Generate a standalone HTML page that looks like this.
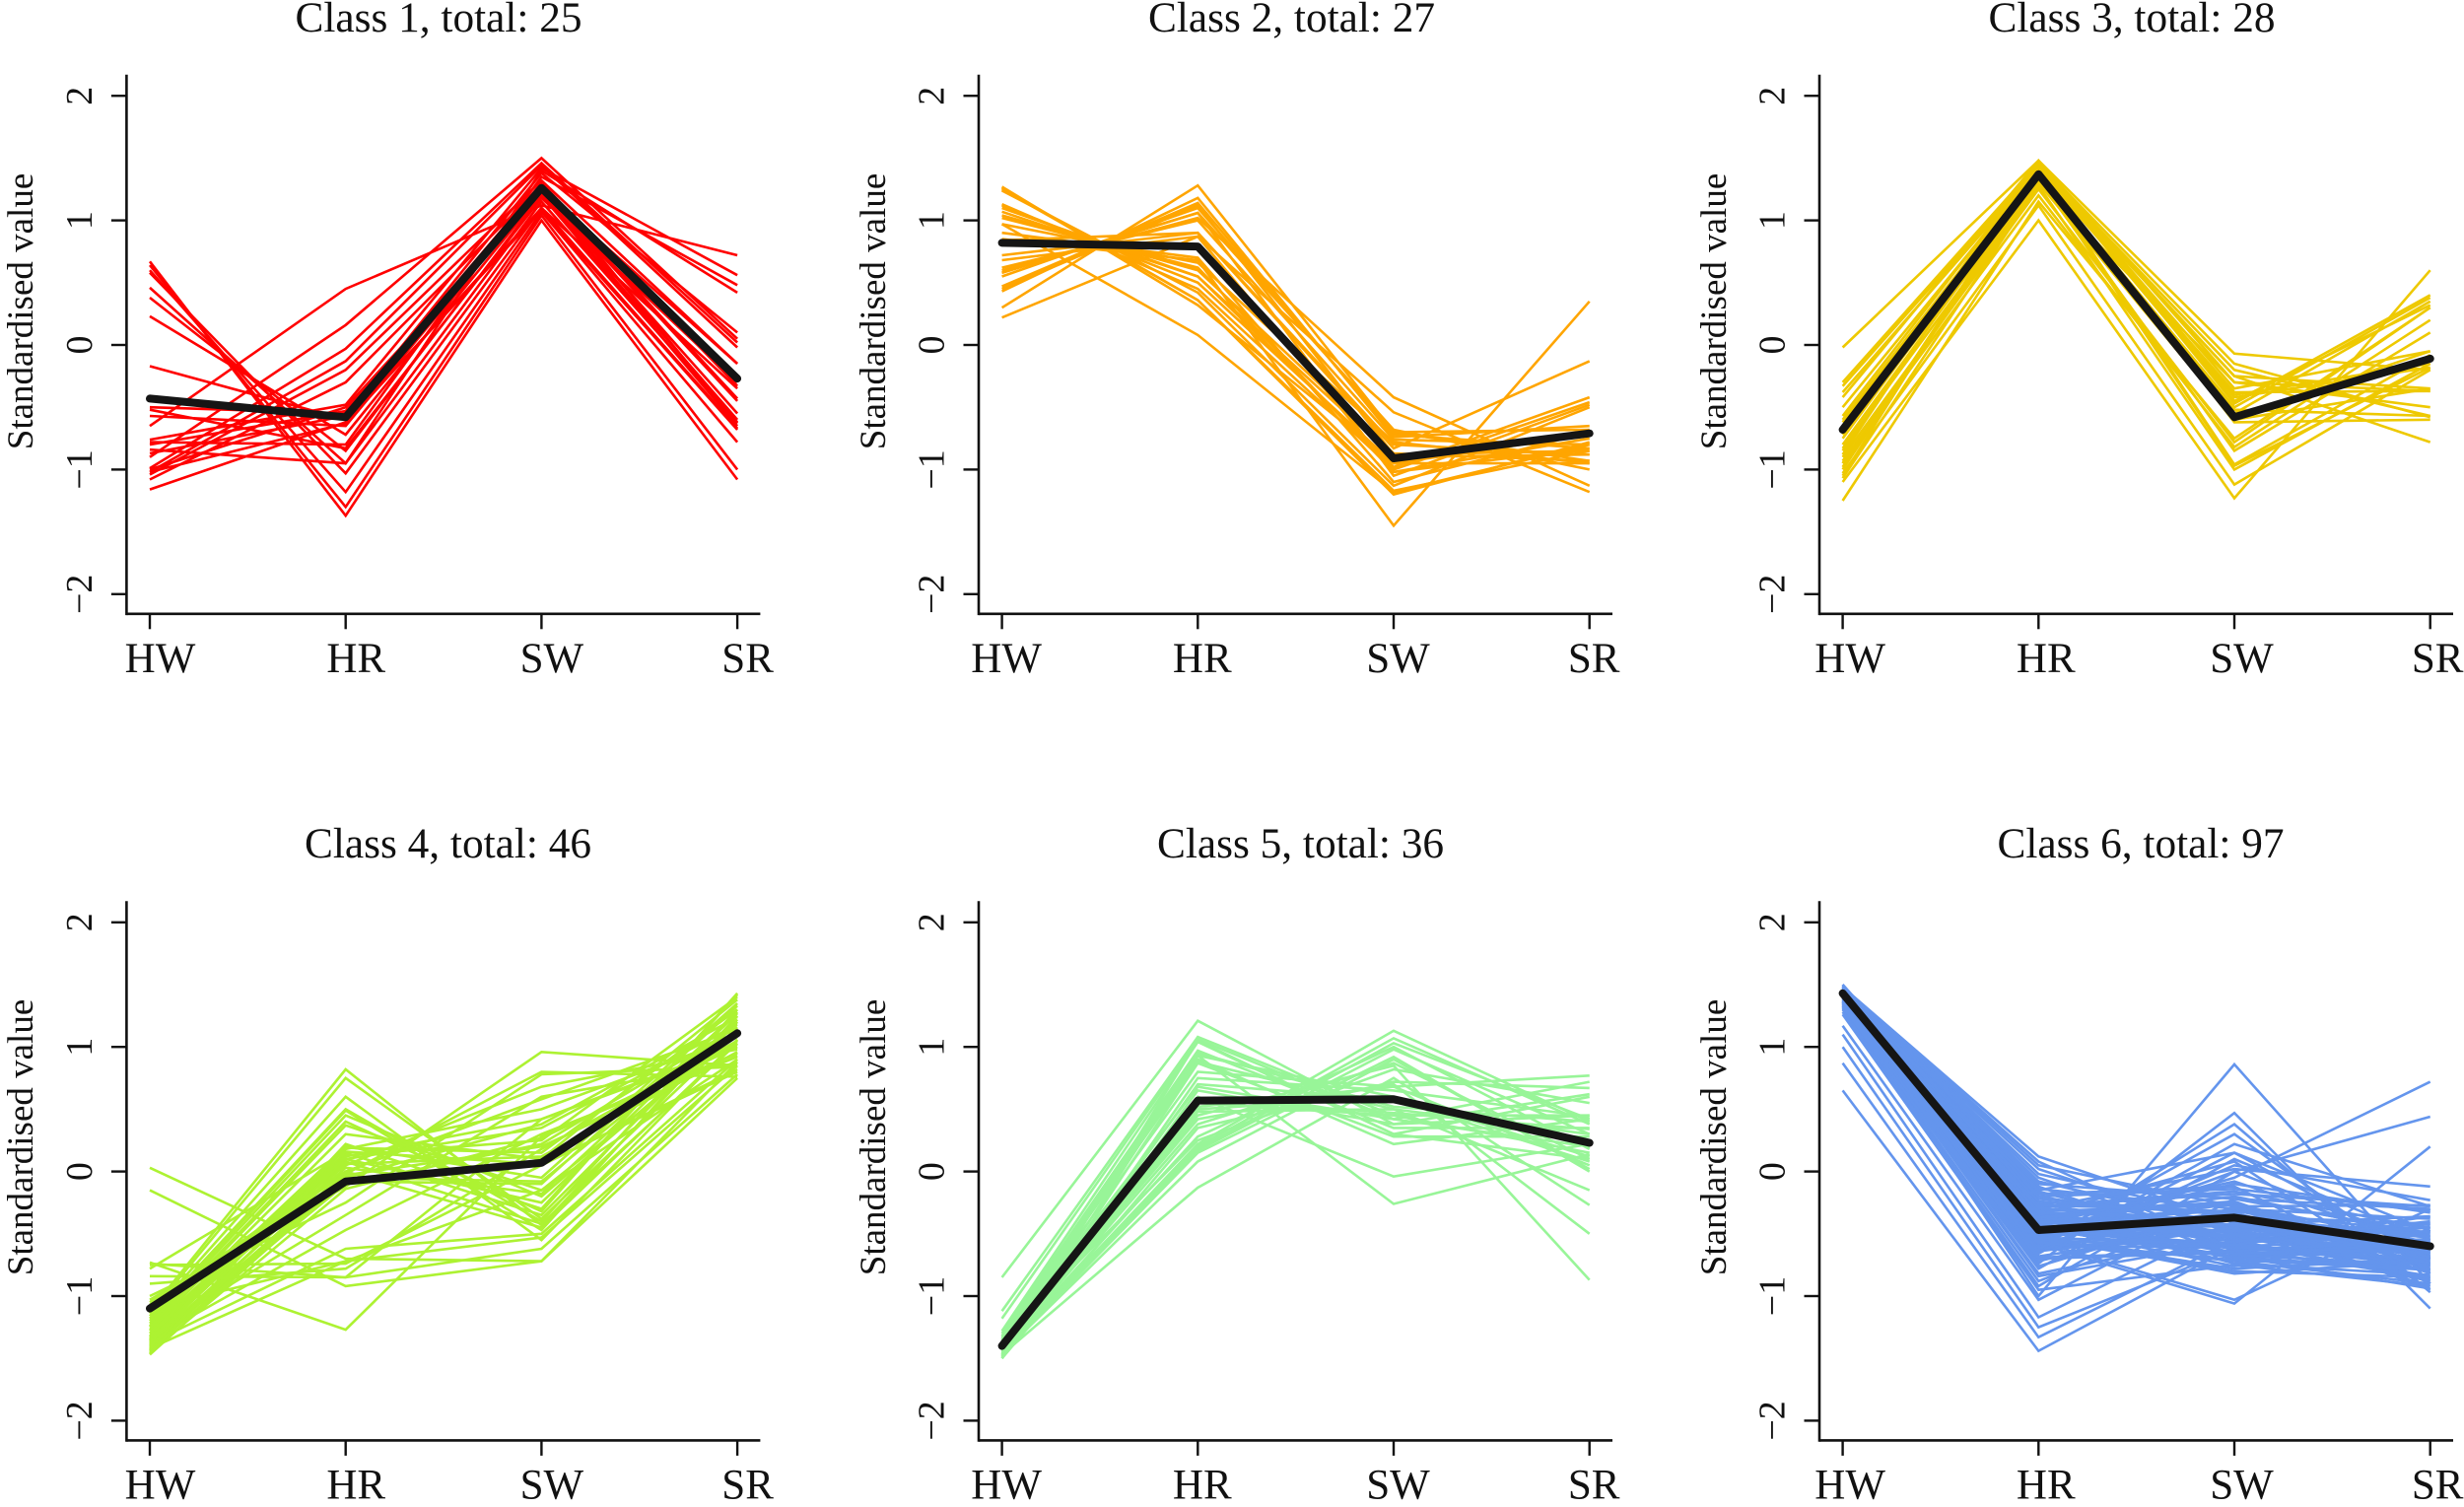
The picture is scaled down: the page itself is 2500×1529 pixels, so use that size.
<!DOCTYPE html>
<html lang="en">
<head>
<meta charset="utf-8">
<title>Standardised value profiles by class</title>
<style>
html,body{margin:0;padding:0;background:#fff;}
svg{display:block;}
text{font-family:"Liberation Serif",serif;fill:#111;}
</style>
</head>
<body>
<svg id="chart" xmlns="http://www.w3.org/2000/svg" width="2500" height="1529" viewBox="0 0 2500 1529">
<rect width="2500" height="1529" fill="#fff"/>
<g id="panel-1"><text x="445" y="32" font-size="43.3" text-anchor="middle">Class 1, total: 25</text><text transform="translate(33,316) rotate(-90)" font-size="37" text-anchor="middle">Standardised value</text></g>
<g id="panel-2"><text x="1310.5" y="32" font-size="43.3" text-anchor="middle">Class 2, total: 27</text><text transform="translate(898,316) rotate(-90)" font-size="37" text-anchor="middle">Standardised value</text></g>
<g id="panel-3"><text x="2163" y="32" font-size="43.3" text-anchor="middle">Class 3, total: 28</text><text transform="translate(1751,316) rotate(-90)" font-size="37" text-anchor="middle">Standardised value</text></g>
<g id="panel-4"><text x="454.5" y="870" font-size="43.3" text-anchor="middle">Class 4, total: 46</text><text transform="translate(33,1154) rotate(-90)" font-size="37" text-anchor="middle">Standardised value</text></g>
<g id="panel-5"><text x="1319.5" y="870" font-size="43.3" text-anchor="middle">Class 5, total: 36</text><text transform="translate(898,1154) rotate(-90)" font-size="37" text-anchor="middle">Standardised value</text></g>
<g id="panel-6"><text x="2172" y="870" font-size="43.3" text-anchor="middle">Class 6, total: 97</text><text transform="translate(1751,1154) rotate(-90)" font-size="37" text-anchor="middle">Standardised value</text></g>
</svg>
<script>
const categories = ["HW","HR","SW","SR"];
const yTickValues = [-2,-1,0,1,2];
const yTickLabels = ["\u22122","\u22121","0","1","2"];

const class1Lines = [
[.67,-1.37,1.0,-1.08],[.64,-1.3,1.04,-1.0],[.6,-1.18,1.07,-.78],[.58,-1.03,1.1,-.67],[.46,-.95,1.15,-.62],
[.38,-.85,1.2,-.6],[.23,-.72,1.22,-.55],[-.17,-.6,1.26,-.43],[-.5,-.55,1.3,-.33],[-.52,-.83,1.18,-.3],
[-.57,-.65,1.25,-.15],[-.65,.45,1.12,.72],[-.76,-.48,1.42,.56],[-.78,-.8,1.35,.48],[-.84,-.95,1.4,.42],
[-.87,-.57,1.38,.1],[-.9,.16,1.5,.05],[-.99,-.03,1.46,.02],[-1.02,-.13,1.44,-.02],[-1.04,-.2,1.32,-.15],
[-1.08,-.3,1.28,-.63],[-1.0,-.5,1.2,-.65],[-1.02,-.63,1.1,-.35],[-1.16,-.62,1.08,-.68],[-.8,-.53,1.24,-.45]
];
const class1Mean = [-.43,-.58,1.26,-.27];

const class2Lines = [
[1.27,.32,-.95,-.72],[1.26,.36,-1.17,-.85],[1.25,.36,-1.2,-.78],[1.24,.42,-1.13,-.5],[1.13,.45,-1.0,-.46],
[1.1,.55,-.98,-.42],[1.07,.55,-.9,-.88],[1.04,.6,-.87,-.93],[.97,.08,-1.18,-.8],[.97,.66,-.78,-.95],
[.85,.68,-1.45,.35],[.84,.9,-.83,-.13],[.68,.87,-.54,-1.18],[.6,1.02,-.42,-1.13],[.58,1.06,-.68,-1.0],
[.55,1.1,-.7,-.93],[.47,1.14,-.72,-.83],[.43,1.18,-.74,-.65],[.3,1.28,-.7,-.68],[.22,.87,-1.02,-.75],
[.62,1.0,-.76,-.8],[.45,1.12,-.88,-.85],[.58,1.06,-1.05,-.48],[.9,.7,-1.1,-.7],[1.12,.5,-.95,-.95],
[.72,.9,-.8,-.88],[1.02,.62,-1.02,-.83]
];
const class2Mean = [.82,.79,-.91,-.71];

const class3Lines = [
[-.02,1.48,-.07,-.2],[-.3,1.46,-.15,-.58],[-.33,1.44,-.2,-.57],[-.38,1.42,-.25,-.78],[-.42,1.48,-.3,-.5],
[-.57,1.45,-.35,-.05],[-.6,1.4,-.38,-.37],[-.65,1.43,-.45,.32],[-.7,1.47,-.47,.4],[-.75,1.38,-.5,.38],
[-.8,1.35,-.55,.35],[-.83,1.3,-.6,-.35],[-.85,1.41,-.62,-.6],[-.88,1.46,-.4,-.15],[-.9,1.25,-.78,.3],
[-.93,1.2,-.82,.2],[-.95,1.33,-.85,.1],[-.98,1.39,-.96,-.08],[-1.0,1.36,-.97,-.18],[-1.03,1.12,-1.12,-.2],
[-1.05,1.44,-.25,-.35],[-1.07,1.28,-1.0,-.15],[-1.1,1.0,-1.23,.6],[-1.25,1.15,-.75,.3],[-.72,1.32,-.52,-.57],
[-.5,1.42,-.42,-.18],[-.62,1.37,-.58,-.05],[-.95,1.3,-.3,-.37]
];
const class3Mean = [-.68,1.37,-.58,-.11];

const class4Lines = [
[.03,-.7,-.72,.88],[-.15,-.92,-.72,.75],[-.73,-1.27,.28,.95],[-.74,-.85,-.62,.78],[-.75,-.74,.05,.82],
[-1.42,-.72,-.53,.85],[-1.38,-.62,-.5,.9],[-.84,-.85,.42,1.0],[-1.35,-.47,.3,.92],[-1.3,-.35,.6,.87],
[-1.0,-.25,.78,.84],[-1.03,-.12,.96,.85],[-1.05,-.02,.8,.76],[-1.07,.0,-.45,1.05],[-1.1,.05,.68,.98],
[-1.12,.82,-.43,1.2],[-1.14,.75,-.38,1.12],[-1.16,.6,-.55,1.06],[-1.18,.5,-.4,1.3],[-1.2,.49,-.47,1.25],
[-1.22,.45,-.2,1.15],[-1.24,.4,-.32,1.43],[-1.25,.37,-.15,1.1],[-1.27,.3,.1,1.38],[-1.28,.2,-.05,1.35],
[-1.3,.19,.15,1.3],[-1.3,.15,-.35,1.22],[-1.32,.13,.25,1.4],[-1.33,.1,.35,1.18],[-1.34,.08,-.42,1.03],
[-1.35,.18,.5,1.08],[-1.36,.12,.42,1.02],[-1.37,.03,-.18,1.28],[-1.38,-.03,.2,.93],[-1.39,-.1,.22,1.16],
[-1.4,-.05,.38,1.24],[-1.41,.06,.12,.96],[-1.42,.0,.58,1.14],[-1.43,-.08,-.1,1.33],[-1.44,.1,-.25,1.27],
[-1.45,-.14,.27,1.0],[-1.46,.22,-.3,1.42],[-1.47,-.05,-.08,1.2],[-.9,-.78,.18,1.05],[-.78,.16,.06,.8],
[-1.1,-.72,-.15,.9]
];
const class4Mean = [-1.1,-.08,.07,1.11];

const class5Lines = [
[-.85,1.21,.38,.45],[-1.12,1.08,.45,.15],[-1.18,1.06,.42,.2],[-1.28,1.04,.3,.1],[-1.3,.97,.35,.35],
[-1.32,.95,.52,.4],[-1.33,.93,.6,.2],[-1.34,.9,.22,.42],[-1.35,.88,.5,.3],[-1.36,.8,.68,.77],
[-1.37,.68,.42,.72],[-1.38,.6,-.04,.22],[-1.39,.55,.45,.45],[-1.4,.52,.68,.05],[-1.4,.5,.6,.12],
[-1.41,.48,.5,-.15],[-1.42,.45,.85,-.87],[-1.42,.42,.7,-.5],[-1.43,.38,.87,.1],[-1.43,.28,1.0,.18],
[-1.44,.22,1.13,.4],[-1.44,.2,1.07,.38],[-1.45,.18,1.03,.42],[-1.45,.17,.98,.3],[-1.46,.15,.92,.0],
[-1.46,.08,.9,.02],[-1.47,-.13,.75,-.27],[-1.47,.93,-.26,.14],[-1.48,1.05,.3,.6],[-1.48,.7,.58,.08],
[-1.49,.58,.47,.34],[-1.49,.87,.28,.28],[-1.5,.75,.65,.44],[-1.5,.35,.72,.67],[-1.5,.65,.38,.62],
[-1.35,.25,.82,.55]
];
const class5Mean = [-1.4,.57,.58,.23];

const class6Lines = [
[.65,-1.44,-.6,-.75],[.87,-1.33,-.55,-.62],[1.0,-1.25,-.62,-.85],[1.1,-1.17,-.4,-.7],[1.17,-1.03,-.22,-.5],
[1.26,-.95,-.75,-.92],[1.28,-.92,.0,-.6],[1.3,-.88,-.28,-.68],[1.31,-.82,-.5,-.8],[1.32,-.78,.1,-.55],
[1.33,-.72,-.35,-.95],[1.34,-.7,-.65,-.78],[1.35,-.68,-.45,-.66],[1.35,-.65,.15,-.48],[1.36,-.63,-.3,-.38],
[1.36,-.61,-.6,-.73],[1.37,-.6,-.55,-.88],[1.37,-.58,-1.06,.2],[1.38,-.56,-1.03,-.3],[1.38,-.55,-.72,-.9],
[1.39,-.54,-.8,-.85],[1.39,-.53,-.78,-.7],[1.4,-.52,-.42,-.58],[1.4,-.51,-.48,-.63],[1.4,-.5,-.38,-.53],
[1.41,-.49,-.33,-.76],[1.41,-.48,-.58,-.45],[1.41,-.47,-.52,-.67],[1.42,-.46,-.26,-.82],[1.42,-.45,-.44,-.72],
[1.42,-.44,-.62,-.59],[1.42,-.43,-.68,-.94],[1.43,-.42,-.36,-.42],[1.43,-.41,-.31,-.65],[1.43,-.4,-.49,-.74],
[1.43,-.39,-.2,-.52],[1.44,-.38,-.56,-.87],[1.44,-.37,-.7,-.6],[1.44,-.36,-.43,-.36],[1.44,-.35,-.24,-.79],
[1.44,-.34,-.65,-.69],[1.45,-.33,-.54,-.48],[1.45,-.32,-.27,-.57],[1.45,-.31,-.74,-.83],[1.45,-.3,-.4,-.64],
[1.45,-.28,-.16,-.46],[1.45,-.26,-.5,-.77],[1.46,-.24,-.6,-.55],[1.46,-.22,-.34,-.71],[1.46,-.2,-.46,-.61],
[1.46,-.18,-.12,-.9],[1.46,-.16,-.57,-.4],[1.46,-.14,-.3,-.66],[1.47,-.12,-.67,-.75],[1.47,-.1,-.22,-.3],
[1.47,-.08,-.44,-.56],[1.47,-.05,-.58,-.84],[1.47,-.02,-.37,-.51],[1.47,.02,-.5,-.68],[1.48,.05,-.28,-.27],
[1.48,.08,-.63,-.62],[1.48,.12,-.41,-.81],[1.34,-1.0,.86,-.9],[1.38,-.74,.47,-1.1],[1.4,-.6,.38,-.97],
[1.42,-.57,.3,-.82],[1.36,-.66,.22,-.28],[1.44,-.15,.15,-.7],[1.46,-.35,.08,-.95],[1.39,-.62,.05,-.23],
[1.41,-.3,.02,-.12],[1.43,-.5,-.05,.72],[1.45,-.58,.0,.44],[1.37,-.47,-.1,-.33],[1.47,-.42,-.08,-.6],
[1.48,-.28,-.18,-.28],[1.49,-.52,-.82,-.72],[1.49,-.2,-.14,-.32],[1.49,-.44,-.76,-.47],[1.5,-.36,-.66,-.58],
[1.5,-.48,-.47,-.88],[1.5,-.24,-.35,-.74],[1.44,-.55,-.61,-.65],[1.46,-.4,-.53,-.42],[1.48,-.33,-.39,-.53],
[1.35,-.76,-.29,-.62],[1.33,-.84,-.56,-.44],[1.4,-.46,-.69,-.78],[1.42,-.64,-.45,-.92],[1.43,-.27,-.32,-.49],
[1.45,-.53,-.59,-.36],[1.47,-.37,-.25,-.69],[1.38,-.43,-.51,-.86],[1.41,-.69,-.64,-.54],[1.44,-.29,-.43,-.63],
[1.46,-.57,-.71,-.79],[1.39,-.49,-.37,-.59]
];
const class6Mean = [1.43,-.47,-.37,-.6];

/* layout (not data) */
const columnAxisX = [128.4, 993, 1846];
const columnLabelOffset = [10.5, 4.5, 7.5];
const rowZeroY = [350, 1188.6];
const X_STEP = 198.7;
const Y_UNIT = 126.4;
const FIRST_TICK_OFFSET = 23.6;

const panels = [
  {id:"panel-1", label:"class-1", col:0, row:0, color:"#ff0000", lines:class1Lines, mean:class1Mean},
  {id:"panel-2", label:"class-2", col:1, row:0, color:"#ffa500", lines:class2Lines, mean:class2Mean},
  {id:"panel-3", label:"class-3", col:2, row:0, color:"#eec900", lines:class3Lines, mean:class3Mean},
  {id:"panel-4", label:"class-4", col:0, row:1, color:"#adf232", lines:class4Lines, mean:class4Mean},
  {id:"panel-5", label:"class-5", col:1, row:1, color:"#98f598", lines:class5Lines, mean:class5Mean},
  {id:"panel-6", label:"class-6", col:2, row:1, color:"#6495ed", lines:class6Lines, mean:class6Mean}
];

const NS = "http://www.w3.org/2000/svg";
function make(parent, tag, attrs) {
  const el = document.createElementNS(NS, tag);
  for (const k in attrs) el.setAttribute(k, attrs[k]);
  parent.appendChild(el);
  return el;
}

panels.forEach(function (p) {
  const axisX = columnAxisX[p.col];
  const zeroY = rowZeroY[p.row];
  const xScale = function (i) { return axisX + FIRST_TICK_OFFSET + i * X_STEP; };
  const yScale = function (v) { return zeroY - v * Y_UNIT; };
  const pointsOf = function (vals) {
    return vals.map(function (v, i) { return xScale(i).toFixed(1) + "," + yScale(v).toFixed(1); }).join(" ");
  };
  const root = document.getElementById(p.id);
  const axisY = zeroY + 272.8;

  p.lines.forEach(function (vals) {
    const line = make(root, "polyline", {points: pointsOf(vals), fill: "none", stroke: p.color, "stroke-width": 2.6, "stroke-linejoin": "miter"});
    
    
  });

  const mean = make(root, "polyline", {points: pointsOf(p.mean), fill: "none", stroke: "#151515", "stroke-width": 8, "stroke-linejoin": "round", "stroke-linecap": "round"});
  
  

  const yAxis = make(root, "line", {x1: axisX, y1: zeroY - 273, x2: axisX, y2: axisY, stroke: "#111", "stroke-width": 2.6, "stroke-linecap": "square"});
  
  

  const xAxis = make(root, "line", {x1: axisX, y1: axisY, x2: axisX + 643, y2: axisY, stroke: "#111", "stroke-width": 2.6});
  
  

  yTickValues.forEach(function (v, i) {
    const y = yScale(v);
    const tick = make(root, "line", {x1: axisX - 15.5, y1: y, x2: axisX, y2: y, stroke: "#111", "stroke-width": 2.4});
    
    
    const label = make(root, "text", {transform: "translate(" + (axisX - 35.5) + "," + y + ") rotate(-90)", "font-size": 38, "text-anchor": "middle"});
    label.textContent = yTickLabels[i];
    
    
  });

  categories.forEach(function (c, i) {
    const x = xScale(i);
    const tick = make(root, "line", {x1: x, y1: axisY, x2: x, y2: axisY + 15.5, stroke: "#111", "stroke-width": 2.4});
    
    
    const label = make(root, "text", {x: x + columnLabelOffset[p.col], y: zeroY + 332, "font-size": 43, "text-anchor": "middle"});
    label.textContent = c;
    
    
  });
});
</script>
</body>
</html>
